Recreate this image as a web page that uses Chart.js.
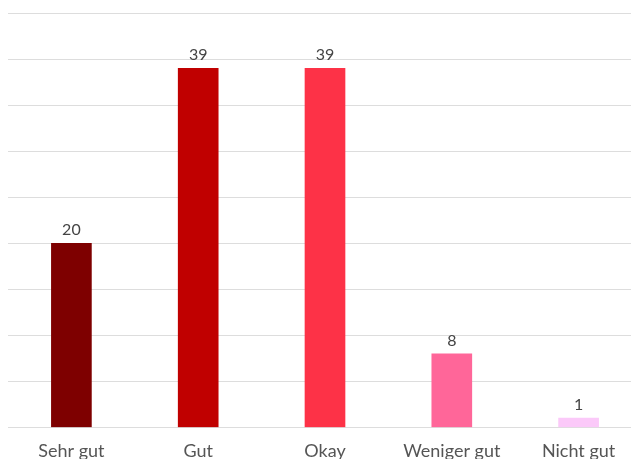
<!DOCTYPE html>
<html>
<head>
<meta charset="utf-8">
<script src="https://cdn.jsdelivr.net/npm/chart.js@4"></script>
<style>
  html, body { margin: 0; padding: 0; background: #fff; overflow: hidden; }
  #wrap { position: relative; width: 650px; height: 467px; }
</style>
</head>
<body>
<div id="wrap"><canvas id="chart"></canvas></div>
<script>
const categories = ["Sehr gut", "Gut", "Okay", "Weniger gut", "Nicht gut"];
const values = [20, 39, 39, 8, 1];
const barColors = ["#7e0000", "#c00000", "#fd3247", "#ff6699", "#fbc9f9"];

// value labels above each bar
const valueLabels = {
  id: "valueLabels",
  afterDatasetsDraw(chart) {
    const ctx = chart.ctx;
    const meta = chart.getDatasetMeta(0);
    ctx.save();
    ctx.font = "16px Lato";
    ctx.fillStyle = "#444";
    ctx.textAlign = "center";
    ctx.textBaseline = "bottom";
    meta.data.forEach((bar, i) => {
      ctx.fillText(String(values[i]), bar.x, bar.y - 5);
    });
    ctx.restore();
  }
};

new Chart(document.getElementById("chart"), {
  type: "bar",
  data: {
    labels: categories,
    datasets: [{
      data: values,
      backgroundColor: barColors,
      barThickness: 40
    }]
  },
  options: {
    responsive: true,
    maintainAspectRatio: false,
    animation: false,
    layout: { padding: { top: 13, left: 8, right: 8 } },
    plugins: { legend: { display: false }, tooltip: { enabled: false } },
    scales: {
      x: {
        grid: { display: false },
        border: { display: false },
        ticks: { color: "#555", font: { family: "Lato", size: 18 }, padding: 5 }
      },
      y: {
        min: 0,
        max: 45,
        ticks: { display: false, stepSize: 5 },
        border: { display: false },
        grid: { color: "#dddddd", drawTicks: false }
      }
    }
  },
  plugins: [valueLabels]
});
</script>
</body>
</html>
